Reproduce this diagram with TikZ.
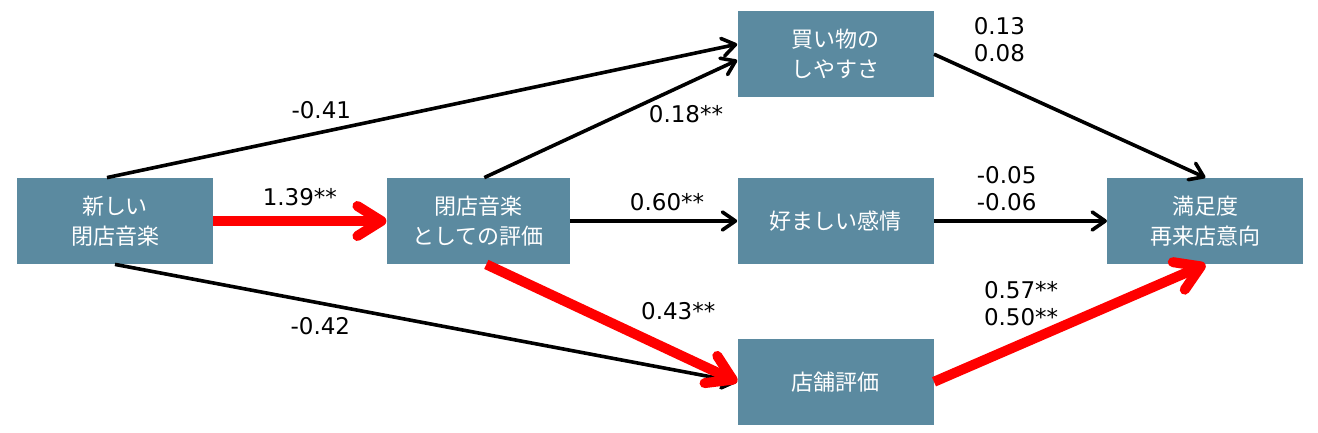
\documentclass[tikz,border=0pt]{standalone}
\usepackage{fontspec}
\setmainfont{DejaVu Sans}
\newfontfamily\jpfont{Noto Sans CJK JP}
\usetikzlibrary{arrows.meta,positioning}
\definecolor{facblue}{RGB}{91,138,160}
\definecolor{sigred} {RGB}{255,0,0}
\tikzset{
  fac/.style={fill=facblue,minimum width=98pt,minimum height=43pt,
              inner sep=0pt,align=center,text=white,
              font=\jpfont\fontsize{11}{15}\selectfont},
  eff/.style={-{Straight Barb[length=6.5pt,width=9pt,round]},
              line width=1.8pt},
  effred/.style={-{Straight Barb[length=12pt,width=15pt,round]},
              line width=5pt,color=sigred},
  coef/.style={font=\fontsize{11.5}{13.5}\selectfont,align=left,
              text=black,inner sep=2pt},
}
\begin{document}
\begin{tikzpicture}
  \useasboundingbox (0,0) rectangle (659pt,-216.5pt);
  \node[fac](new) at (57.5pt,-110.5pt) {新しい\\閉店音楽};
  \node[fac,minimum width=91.5pt,right=86.5pt of new](eval) {閉店音楽\\としての評価};
  \node[fac,right=83.5pt of eval](feel)  {好ましい感情};
  \node[fac,above=40pt of feel](shop)    {買い物の\\しやすさ};
  \node[fac,below=37pt of feel](store)   {店舗評価};
  \node[fac,right=86.5pt of feel](sat)   {満足度\\再来店意向};

  \draw[eff]([xshift=-4pt]new.north) -- node[coef,pos=0.34,above=4pt]{-0.41} ([yshift=5pt]shop.west);
  \draw[eff]([xshift=3pt]eval.north) -- node[coef,pos=0.75,below=5pt,xshift=6pt]{0.18**} ([yshift=-3pt]shop.west);
  \draw[effred](new) -- node[coef,above=3pt]{1.39**} (eval);
  \draw[eff](eval) -- node[coef,pos=0.58,above=2pt]{0.60**} (feel);
  \draw[eff](new.south) -- node[coef,pos=0.33,below=4pt]{-0.42} (store.west);
  \draw[effred]([xshift=4pt]eval.south) -- node[coef,pos=0.57,above right=2pt]{0.43**} (store.west);
  \draw[eff](shop.east) -- node[coef,pos=0.12,above right=1pt]{0.13\\0.08} (sat.north);
  \draw[eff](feel) -- node[coef,pos=0.42,above=2pt]{-0.05\\-0.06} (sat);
  \draw[effred](store.east) -- node[coef,pos=0.38,above=1pt,xshift=-8pt]{0.57**\\0.50**} (sat.south);
\end{tikzpicture}
\end{document}
